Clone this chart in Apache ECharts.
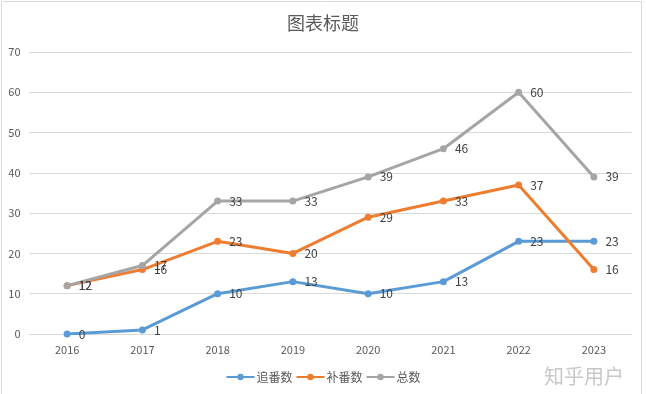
<!DOCTYPE html>
<html><head><meta charset="utf-8">
<script src="https://cdn.jsdelivr.net/npm/echarts@6/dist/echarts.min.js"></script>
<style>html,body{margin:0;padding:0;background:#fff;}#c{width:646px;height:394px;}</style>
</head><body><div id="c"></div>
<script>
var categories = ['2016','2017','2018','2019','2020','2021','2022','2023'];
var chase = [0,1,10,13,10,13,23,23];
var catchup = [12,16,23,20,29,33,37,16];
var total = [12,17,33,33,39,46,60,39];
var yTicks = [0,10,20,30,40,50,60,70];

var font = '"Microsoft YaHei","Noto Sans CJK SC",sans-serif';
function ser(name, data, color) {
  return {
    name: name, type: 'line', data: data,
    symbol: 'circle', symbolSize: 7,
    lineStyle: {width: 3, color: color},
    itemStyle: {color: color},
    label: {show: true, position: 'right', distance: 8, color: '#404040', fontSize: 12, fontFamily: font}
  };
}
var chart = echarts.init(document.getElementById('c'));
chart.setOption({
  animation: false,
  backgroundColor: '#fff',
  title: {text: '图表标题', left: 'center', top: 9, textStyle: {color: '#595959', fontSize: 18, fontWeight: 'normal', fontFamily: font}},
  grid: {left: 29.5, right: 14.5, top: 52, bottom: 60, containLabel: false},
  xAxis: {type: 'category', data: categories, boundaryGap: true,
    axisLine: {lineStyle: {color: '#d9d9d9'}}, axisTick: {show: false},
    axisLabel: {color: '#595959', fontSize: 11, margin: 10, fontFamily: font}},
  yAxis: {type: 'value', min: yTicks[0], max: yTicks[yTicks.length-1], interval: 10,
    axisLine: {show: false}, axisTick: {show: false},
    splitLine: {lineStyle: {color: '#d9d9d9'}},
    axisLabel: {color: '#595959', fontSize: 11, margin: 9, fontFamily: font}},
  legend: {bottom: 6, left: 'center', itemWidth: 28, itemHeight: 8, itemGap: 3,
    textStyle: {color: '#595959', fontSize: 12, fontFamily: font, padding: [0, 0, 0, -3]}},
  series: [ser('追番数', chase, '#5B9BD5'), ser('补番数', catchup, '#ED7D31'), ser('总数', total, '#A5A5A5')],
  graphic: [
    {type: 'rect', shape: {x: 1.5, y: 1.5, width: 640, height: 400}, style: {fill: 'none', stroke: '#d9d9d9', lineWidth: 1}, silent: true},
    {type: 'text', right: 22, bottom: 8, style: {text: '知乎用户', fill: '#c8c8c8', fontSize: 20, fontFamily: font}, silent: true}
  ]
});
</script></body></html>
